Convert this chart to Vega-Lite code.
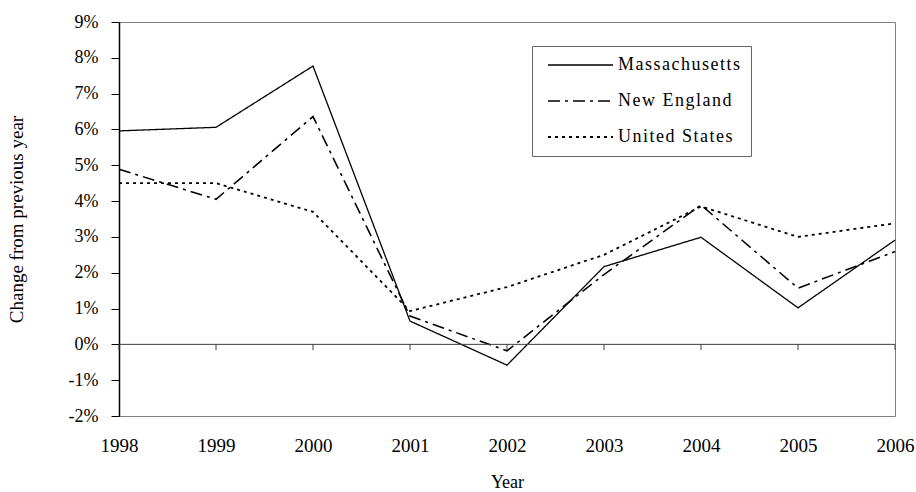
{
  "$schema": "https://vega.github.io/schema/vega-lite/v6.json",
  "width": 776,
  "height": 394,
  "autosize": {"type": "none"},
  "padding": {"left": 119, "top": 22, "right": 21, "bottom": 76},
  "background": "white",
  "config": {
    "view": {"stroke": "#808080", "strokeWidth": 1},
    "font": "Liberation Serif",
    "axis": {"labelFont": "Liberation Serif", "titleFont": "Liberation Serif", "labelColor": "black", "titleColor": "black", "titleFontWeight": "normal", "grid": false},
    "legend": {"labelFont": "Liberation Serif"}
  },
  "datasets": {
    "series": [
      {"year": 1998, "series": "Massachusetts", "value": 5.96},
      {"year": 1999, "series": "Massachusetts", "value": 6.06},
      {"year": 2000, "series": "Massachusetts", "value": 7.77},
      {"year": 2001, "series": "Massachusetts", "value": 0.65},
      {"year": 2002, "series": "Massachusetts", "value": -0.58},
      {"year": 2003, "series": "Massachusetts", "value": 2.17},
      {"year": 2004, "series": "Massachusetts", "value": 2.99},
      {"year": 2005, "series": "Massachusetts", "value": 1.02},
      {"year": 2006, "series": "Massachusetts", "value": 2.91},
      {"year": 1998, "series": "New England", "value": 4.89},
      {"year": 1999, "series": "New England", "value": 4.05},
      {"year": 2000, "series": "New England", "value": 6.36},
      {"year": 2001, "series": "New England", "value": 0.79},
      {"year": 2002, "series": "New England", "value": -0.18},
      {"year": 2003, "series": "New England", "value": 1.95},
      {"year": 2004, "series": "New England", "value": 3.89},
      {"year": 2005, "series": "New England", "value": 1.57},
      {"year": 2006, "series": "New England", "value": 2.59},
      {"year": 1998, "series": "United States", "value": 4.5},
      {"year": 1999, "series": "United States", "value": 4.5},
      {"year": 2000, "series": "United States", "value": 3.7},
      {"year": 2001, "series": "United States", "value": 0.93},
      {"year": 2002, "series": "United States", "value": 1.6},
      {"year": 2003, "series": "United States", "value": 2.5},
      {"year": 2004, "series": "United States", "value": 3.85},
      {"year": 2005, "series": "United States", "value": 3.0},
      {"year": 2006, "series": "United States", "value": 3.38}
    ],
    "ticks": [
      {"year": 1998, "top": 0, "bottom": -0.16},
      {"year": 1999, "top": 0, "bottom": -0.16},
      {"year": 2000, "top": 0, "bottom": -0.16},
      {"year": 2001, "top": 0, "bottom": -0.16},
      {"year": 2002, "top": 0, "bottom": -0.16},
      {"year": 2003, "top": 0, "bottom": -0.16},
      {"year": 2004, "top": 0, "bottom": -0.16},
      {"year": 2005, "top": 0, "bottom": -0.16},
      {"year": 2006, "top": 0, "bottom": -0.16}
    ],
    "zero": [{"from": 1998, "to": 2006, "value": 0}]
  },
  "encoding": {
    "x": {
      "type": "quantitative", "title": "Year",
      "scale": {"domain": [1998, 2006], "nice": false, "zero": false},
      "axis": {"values": [1998, 1999, 2000, 2001, 2002, 2003, 2004, 2005, 2006], "format": "d", "domain": false, "ticks": false, "labelFontSize": 19, "labelPadding": 20, "titleFontSize": 18, "titlePadding": 18, "labelFlush": false, "labelOverlap": false}
    },
    "y": {
      "type": "quantitative", "title": "Change from previous year",
      "scale": {"domain": [-2, 9], "nice": false},
      "axis": {"values": [-2, -1, 0, 1, 2, 3, 4, 5, 6, 7, 8, 9], "labelExpr": "datum.value + '%'", "domainColor": "black", "domainWidth": 1.5, "tickColor": "black", "tickSize": 8, "labelFontSize": 18, "labelPadding": 13, "labelOverlap": false, "labelFlush": false, "titleFontSize": 19, "titlePadding": 42}
    }
  },
  "layer": [
    {
      "data": {"name": "series"},
      "mark": {"type": "line", "color": "black"},
      "encoding": {
        "x": {"field": "year"},
        "y": {"field": "value"},
        "strokeDash": {
          "field": "series", "type": "nominal",
          "scale": {"domain": ["Massachusetts", "New England", "United States"], "range": [[1, 0], [12, 5, 3, 5], [3, 4]]},
          "legend": {"title": null, "orient": "none", "legendX": 413, "legendY": 24, "strokeColor": "#666666", "fillColor": "white", "padding": 10, "symbolType": "M-0.375,0H7.75", "symbolSize": 256, "symbolStrokeWidth": 2, "symbolStrokeColor": "black", "symbolFillColor": "transparent", "labelFontSize": 18, "labelOffset": 58, "rowPadding": 18, "labelExpr": "join(split(datum.label, ''), '\u200a')"}
        },
        "strokeWidth": {
          "field": "series", "type": "nominal",
          "scale": {"domain": ["Massachusetts", "New England", "United States"], "range": [1.3, 1.8, 1.8]},
          "legend": null
        }
      }
    },
    {
      "data": {"name": "zero"},
      "mark": {"type": "rule", "color": "#404040", "strokeWidth": 1},
      "encoding": {
        "x": {"field": "from"},
        "x2": {"field": "to"},
        "y": {"field": "value"}
      }
    },
    {
      "data": {"name": "ticks"},
      "mark": {"type": "rule", "color": "#404040", "strokeWidth": 1},
      "encoding": {
        "x": {"field": "year"},
        "y": {"field": "top"},
        "y2": {"field": "bottom"}
      }
    }
  ]
}
